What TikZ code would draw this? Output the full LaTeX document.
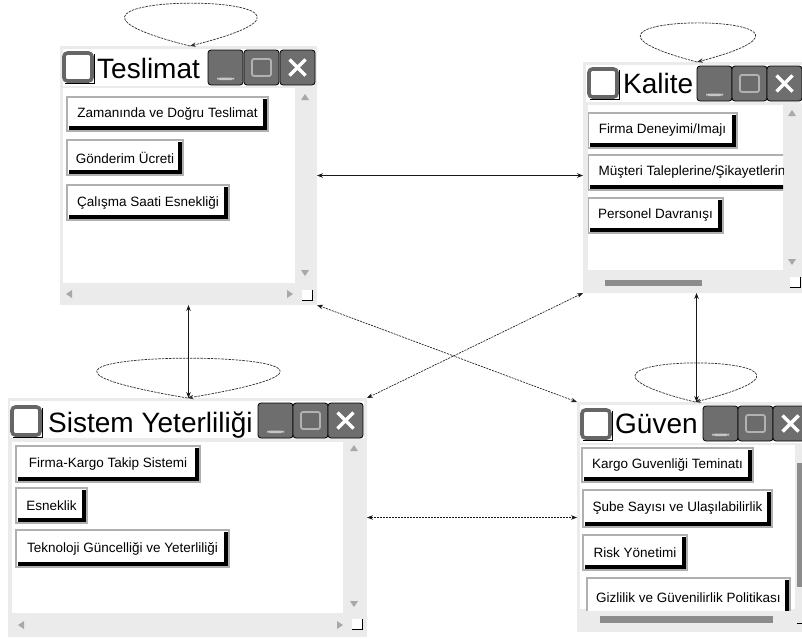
\documentclass[tikz,border=0pt]{standalone}
\usepackage{fontspec}
\setmainfont{Liberation Sans}
\usetikzlibrary{arrows.meta,calc}
\definecolor{framegray}{HTML}{EBEBEB}
\definecolor{btngray}{HTML}{6E6E6E}
\definecolor{rimgray}{HTML}{B0B0B0}
\definecolor{arrgray}{HTML}{A8A8A8}
\definecolor{chkgray}{HTML}{666666}
\definecolor{linegray}{HTML}{303030}
\definecolor{thumbgray}{HTML}{8C8C8C}
\newcommand\myup[2]{\fill[arrgray] ({#1-4},{#2+3}) -- ({#1+4},{#2+3}) -- (#1,{#2-3}) -- cycle;}
\newcommand\mydown[2]{\fill[arrgray] ({#1-4},{#2-3}) -- ({#1+4},{#2-3}) -- (#1,{#2+3}) -- cycle;}
\newcommand\myleft[2]{\fill[arrgray] ({#1+3},{#2-4}) -- ({#1+3},{#2+4}) -- ({#1-3},#2) -- cycle;}
\newcommand\myright[2]{\fill[arrgray] ({#1-3},{#2-4}) -- ({#1-3},{#2+4}) -- ({#1+3},#2) -- cycle;}
\newcommand\mygrip[2]{\fill[white] (#1,#2) rectangle ({#1+10},{#2+10});
  \draw[black,line width=1pt] ({#1+10},#2) -- ({#1+10},{#2+10}) -- (#1,{#2+10});}
\newcommand\myshadow[1]{\draw[black,line width=0.9pt] ([xshift=2pt,yshift=-1pt]#1.north east) -- ([xshift=2pt,yshift=-2pt]#1.south east) -- ([xshift=1pt,yshift=-2pt]#1.south west);}
\begin{document}
\begin{tikzpicture}[x=1pt,y=-1pt,
  win/.style={fill=framegray, inner sep=0pt, outer sep=0pt, anchor=north west},
  chk/.style={draw=chkgray, line width=3.6pt, fill=white, rounded corners=3.5pt, inner sep=0pt, outer sep=0pt, anchor=north west, minimum width=28pt, minimum height=28pt},
  ttl/.style={font=\fontsize{28}{28}\selectfont, inner sep=0pt, anchor=base west},
  tbtn/.style={fill=btngray, draw=black, line width=0.8pt, rounded corners=3pt, inner sep=0pt, outer sep=0pt, anchor=north west, minimum width=35pt, minimum height=35pt},
  minbtn/.style={tbtn, path picture={\fill[gray!45] ([xshift=9pt,yshift=5pt]path picture bounding box.south west) rectangle ([xshift=-9pt,yshift=7.5pt]path picture bounding box.south east);}},
  restbtn/.style={tbtn, path picture={\draw[gray!60, line width=1.8pt, fill=black!58, rounded corners=2pt] ([xshift=8pt,yshift=9pt]path picture bounding box.south west) rectangle ([xshift=-8pt,yshift=-9pt]path picture bounding box.north east);}},
  closebtn/.style={tbtn, path picture={\draw[white, line width=3.5pt] ([xshift=-8pt,yshift=-8pt]path picture bounding box.center) -- ([xshift=8pt,yshift=8pt]path picture bounding box.center) ([xshift=-8pt,yshift=8pt]path picture bounding box.center) -- ([xshift=8pt,yshift=-8pt]path picture bounding box.center);}},
  ibtn/.style={fill=white, draw=rimgray, line width=2.4pt, inner sep=0pt, outer sep=0pt, anchor=north west, font=\fontsize{13.5}{13.5}\selectfont,
    path picture={\draw[black, line width=3.4pt] ([xshift=2pt,yshift=2.9pt]path picture bounding box.south west) -- ([xshift=-2.9pt,yshift=2.9pt]path picture bounding box.south east) -- ([xshift=-2.9pt,yshift=-2pt]path picture bounding box.north east);}},
  tipst/.tip={Stealth[length=6pt,width=4.5pt]},
  conn/.style={draw=black!90, line width=0.65pt, tipst-tipst},
  dconn/.style={conn, dash pattern=on 2pt off 1pt},
  loopst/.style={draw=linegray, line width=0.7pt, dash pattern=on 2.5pt off 1pt, -tipst}
]
\useasboundingbox (0,0) rectangle (802,638);
\clip (0,0) rectangle (802,638);
\fill[white] (0,0) rectangle (802,638);

% ---------------- Teslimat ----------------
\node[win, minimum width=257pt, minimum height=259pt] (tes) at (60,46) {};
\fill[white] (63,49) rectangle (314,86);
\fill[white] (63,88) rectangle (295,283);
\node[chk] (tesc) at (64,53) {};
\myshadow{tesc}
\node[ttl] (test) at (97,78) {Teslimat};
\node[minbtn] (tesm) at (208,50) {};
\node[restbtn] (tesr) at (244,50) {};
\node[closebtn] (tesx) at (280,50) {};
\myup{305}{97}
\mydown{305}{273}
\myleft{69}{294}
\myright{290}{294}
\mygrip{302}{290}
\node[ibtn, minimum width=201pt, minimum height=34pt] (t1) at (67,97) {Zamanında ve Doğru Teslimat};
\node[ibtn, minimum width=116pt, minimum height=35pt] (t2) at (67,140) {Gönderim Ücreti};
\node[ibtn, minimum width=162pt, minimum height=35pt] (t3) at (67,185) {Çalışma Saati Esnekliği};

% ---------------- Kalite ----------------
\node[win, minimum width=227pt, minimum height=231pt] (kal) at (583,62) {};
\fill[white] (586,65) rectangle (805,102);
\fill[white] (588,105) rectangle (783,270);
\node[chk] (kalc) at (589,69) {};
\myshadow{kalc}
\node[ttl] (kalt) at (623,93) {Kalite};
\node[minbtn] (kalm) at (697,66) {};
\node[restbtn] (kalr) at (732,66) {};
\node[closebtn] (kalx) at (767,66) {};
\myup{792}{113}
\mydown{792}{262}
\fill[thumbgray] (605,280) rectangle (702,286);
\mygrip{790}{277}
\begin{scope}
\clip (588,105) rectangle (783,270);
\node[ibtn, minimum width=149pt, minimum height=35pt] (k1) at (588,113) {Firma Deneyimi/Imajı};
\node[ibtn, minimum width=208pt, minimum height=35pt] (k2) at (588,155) {Müşteri Taleplerine/Şikayetlerin};
\node[ibtn, minimum width=135pt, minimum height=35pt] (k3) at (588,198) {Personel Davranışı};
\end{scope}

% ---------------- Sistem Yeterliligi ----------------
\node[win, minimum width=359pt, minimum height=239pt] (sis) at (8,398) {};
\fill[white] (10,401) rectangle (364,438);
\fill[white] (12,442) rectangle (343,613);
\node[chk] (sisc) at (12,407) {};
\myshadow{sisc}
\node[ttl] (sist) at (48,432) {Sistem Yeterliliği};
\node[minbtn] (sism) at (258,403) {};
\node[restbtn] (sisr) at (293,403) {};
\node[closebtn] (sisx) at (328,403) {};
\myup{354}{448}
\mydown{354}{604}
\myleft{21}{625}
\myright{340}{625}
\mygrip{352}{619}
\node[ibtn, minimum width=184pt, minimum height=36pt] (s1) at (16,446) {Firma-Kargo Takip Sistemi};
\node[ibtn, minimum width=71pt, minimum height=35pt] (s2) at (16,488) {Esneklik};
\node[ibtn, minimum width=213pt, minimum height=37pt] (s3) at (16,530) {Teknoloji Güncelliği ve Yeterliliği};

% ---------------- Guven ----------------
\node[win, minimum width=233pt, minimum height=230pt] (guv) at (577,402) {};
\fill[white] (580,405) rectangle (805,443);
\fill[white] (580,445) rectangle (795,609);
\node[chk] (guvc) at (582,410) {};
\myshadow{guvc}
\node[ttl] (guvt) at (615,433) {Güven};
\node[minbtn] (guvm) at (703,406) {};
\node[restbtn] (guvr) at (738,406) {};
\node[closebtn] (guvx) at (773,406) {};
\fill[thumbgray] (797,463) rectangle (805,587);
\fill[thumbgray] (600,616) rectangle (773,623);
\draw[black, line width=1pt] (797,623) -- (803,623);
\begin{scope}
\clip (580,445) rectangle (795,610);
\node[ibtn, minimum width=171pt, minimum height=34pt] (g1) at (582,448) {Kargo Guvenliği Teminatı};
\node[ibtn, minimum width=189pt, minimum height=37pt] (g2) at (583,490) {Şube Sayısı ve Ulaşılabilirlik};
\node[ibtn, minimum width=104pt, minimum height=35pt] (g3) at (583,535) {Risk Yönetimi};
\node[ibtn, minimum width=203pt, minimum height=40pt] (g4) at (587,578) {Gizlilik ve Güvenilirlik Politikası};
\end{scope}

% ---------------- self loops ----------------
\draw[loopst] ([xshift=1.5pt]tes.north) .. controls +(-227,-57) and +(227,-57) .. ([xshift=1.5pt]tes.north);
\draw[loopst] ([xshift=0.5pt]kal.north) .. controls +(-197,-52) and +(197,-52) .. ([xshift=0.5pt]kal.north);
\draw[loopst] (sis.north) .. controls +(-315,-53) and +(315,-53) .. (sis.north);
\draw[loopst] ([xshift=1.5pt]guv.north) .. controls +(-208,-52) and +(208,-52) .. ([xshift=1.5pt]guv.north);

% ---------------- connectors ----------------
\draw[conn] (tes.south) -- (tes.south |- sis.north);
\draw[conn] (kal.south) -- (kal.south |- guv.north);
\draw[conn] (tes.east) -- (tes.east -| kal.west);
\draw[dconn] (sis.east) -- (sis.east -| guv.west);
\draw[dconn] (tes.south east) -- (guv.north west);
\draw[dconn] (kal.south west) -- (sis.north east);
\end{tikzpicture}
\end{document}
